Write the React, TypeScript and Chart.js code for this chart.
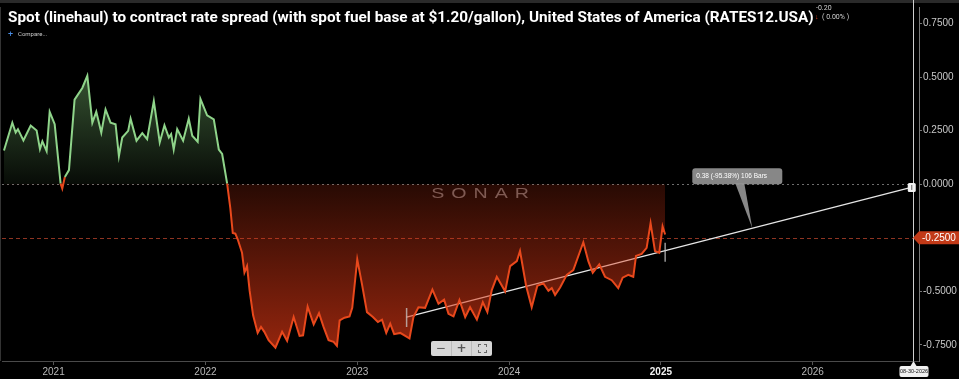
import React, { useEffect, useRef } from "react";
import { Chart, registerables } from "chart.js";
Chart.register(...registerables);

const years: number[] = [
  2020.673, 2020.728, 2020.75, 2020.765, 2020.801, 2020.849, 2020.888, 2020.91, 2020.926, 2020.954,
  2020.974, 2021.007, 2021.046, 2021.057, 2021.074, 2021.101, 2021.138, 2021.16, 2021.189, 2021.222,
  2021.255, 2021.281, 2021.314, 2021.342, 2021.375, 2021.408, 2021.43, 2021.452, 2021.491, 2021.507,
  2021.546, 2021.584, 2021.616, 2021.66, 2021.699, 2021.73, 2021.759, 2021.774, 2021.791, 2021.814,
  2021.853, 2021.89, 2021.913, 2021.949, 2021.967, 2022.011, 2022.055, 2022.088, 2022.11, 2022.143,
  2022.164, 2022.18, 2022.197, 2022.213, 2022.241, 2022.257, 2022.274, 2022.291, 2022.314, 2022.344,
  2022.366, 2022.388, 2022.416, 2022.461, 2022.505, 2022.538, 2022.581, 2022.62, 2022.643, 2022.673,
  2022.713, 2022.748, 2022.778, 2022.811, 2022.844, 2022.866, 2022.884, 2022.916, 2022.949, 2022.967,
  2023.0, 2023.031, 2023.064, 2023.103, 2023.136, 2023.163, 2023.191, 2023.217, 2023.243, 2023.283,
  2023.316, 2023.344, 2023.37, 2023.403, 2023.447, 2023.495, 2023.535, 2023.572, 2023.601, 2023.634,
  2023.673, 2023.711, 2023.743, 2023.788, 2023.827, 2023.857, 2023.886, 2023.919, 2023.974, 2024.007,
  2024.051, 2024.072, 2024.112, 2024.149, 2024.186, 2024.226, 2024.259, 2024.281, 2024.303, 2024.336,
  2024.38, 2024.423, 2024.489, 2024.522, 2024.551, 2024.594, 2024.632, 2024.676, 2024.719, 2024.748,
  2024.785, 2024.818, 2024.836, 2024.873, 2024.906, 2024.932, 2024.961, 2024.989, 2025.011, 2025.028,
];

// Spot-to-contract spread values
const spread: number[] = [
  0.157, 0.287, 0.241, 0.257, 0.204, 0.274, 0.251, 0.164, 0.2, 0.154,
  0.338, 0.28, 0.003, -0.02, 0.034, 0.066, 0.395, 0.418, 0.449, 0.506,
  0.287, 0.338, 0.241, 0.349, 0.287, 0.28, 0.131, 0.218, 0.249, 0.306,
  0.203, 0.238, 0.21, 0.388, 0.195, 0.275, 0.218, 0.234, 0.162, 0.257,
  0.203, 0.306, 0.226, 0.198, 0.398, 0.321, 0.303, 0.162, 0.141, 0.003,
  -0.113, -0.228, -0.231, -0.258, -0.32, -0.412, -0.382, -0.497, -0.612, -0.694,
  -0.666, -0.689, -0.728, -0.763, -0.689, -0.731, -0.62, -0.708, -0.705, -0.571,
  -0.654, -0.602, -0.666, -0.728, -0.736, -0.754, -0.635, -0.623, -0.617, -0.577,
  -0.351, -0.466, -0.597, -0.62, -0.643, -0.632, -0.694, -0.651, -0.7, -0.694,
  -0.708, -0.72, -0.62, -0.574, -0.577, -0.492, -0.558, -0.539, -0.605, -0.617,
  -0.54, -0.62, -0.574, -0.632, -0.551, -0.597, -0.494, -0.432, -0.5, -0.382,
  -0.359, -0.312, -0.474, -0.574, -0.474, -0.463, -0.497, -0.485, -0.517, -0.482,
  -0.423, -0.401, -0.271, -0.359, -0.413, -0.374, -0.432, -0.448, -0.485, -0.436,
  -0.423, -0.432, -0.335, -0.325, -0.297, -0.182, -0.312, -0.32, -0.197, -0.235,
];

// Trend (measure) line
const trendYears: number[] = [2023.325, 2026.649];
const trendValues: number[] = [-0.62, -0.015];

const xTicks: number[] = [2021, 2022, 2023, 2024, 2025, 2026];
const yTicks: number[] = [-0.75, -0.5, -0.25, 0, 0.25, 0.5, 0.75];

const title =
  "Spot (linehaul) to contract rate spread (with spot fuel base at $1.20/gallon), United States of America (RATES12.USA)";
const priceLineValue = -0.25;
const priceLineLabel = "-0.2500";
const cursorYear = 2026.658;
const cursorLabel = "08-30-2026";
const measureLabel = "0.38 (-95.38%) 106 Bars";
const headerChange = "-0.20";
const headerPct = "( 0.00% )";
const watermark = "SONAR";

const GREEN = "#8fd48a";
const RED = "#e8481c";

const decoPlugin = {
  id: "deco",
  beforeDraw(chart: any) {
    const { ctx, width, height, chartArea: a } = chart;
    ctx.save();
    ctx.fillStyle = "#000";
    ctx.fillRect(0, 0, width, height);
    ctx.fillStyle = "#2a2a2a";
    ctx.fillRect(0, 0, width, 3);
    ctx.strokeStyle = "#333";
    ctx.lineWidth = 1;
    ctx.beginPath();
    ctx.moveTo(0.5, a.top);
    ctx.lineTo(0.5, a.bottom);
    ctx.stroke();
    ctx.restore();
  },
  beforeDatasetsDraw(chart: any) {
    const { ctx, chartArea: a, scales } = chart;
    const x = scales.x;
    const y = scales.y;
    ctx.save();
    // watermark (wide, thin lettering)
    const wx = a.left + (a.right - a.left) * 0.468;
    const wy = y.getPixelForValue(-0.045);
    ctx.translate(wx, wy);
    ctx.scale(1.4, 1);
    ctx.font = '14px "Liberation Sans"';
    (ctx as any).letterSpacing = "5px";
    ctx.fillStyle = "rgba(120,116,116,0.85)";
    ctx.textAlign = "left";
    ctx.textBaseline = "middle";
    ctx.fillText(watermark, 0, 0);
    (ctx as any).letterSpacing = "0px";
    ctx.setTransform(1, 0, 0, 1, 0, 0);
    // zero dotted line
    const y0 = Math.round(y.getPixelForValue(0)) + 0.5;
    ctx.strokeStyle = "#6e6e6e";
    ctx.lineWidth = 1;
    ctx.setLineDash([2, 3]);
    ctx.beginPath();
    ctx.moveTo(a.left, y0);
    ctx.lineTo(x.getPixelForValue(trendYears[1]), y0);
    ctx.stroke();
    // price line
    const yp = Math.round(y.getPixelForValue(priceLineValue)) + 0.5;
    ctx.strokeStyle = "#8e3422";
    ctx.setLineDash([4, 3]);
    ctx.beginPath();
    ctx.moveTo(a.left, yp);
    ctx.lineTo(a.right, yp);
    ctx.stroke();
    ctx.restore();
  },
  afterDatasetsDraw(chart: any) {
    const { ctx, chartArea: a, scales, width } = chart;
    const x = scales.x;
    const y = scales.y;
    ctx.save();
    // cursor vertical line
    const cx = Math.round(x.getPixelForValue(cursorYear)) + 0.5;
    ctx.strokeStyle = "#cfcfcf";
    ctx.lineWidth = 1;
    ctx.beginPath();
    ctx.moveTo(cx, 0);
    ctx.lineTo(cx, a.bottom);
    ctx.stroke();

    // trend markers
    const tx0 = x.getPixelForValue(trendYears[0]);
    const ty0 = y.getPixelForValue(trendValues[0]);
    const tx1 = x.getPixelForValue(trendYears[1]);
    const ty1 = y.getPixelForValue(trendValues[1]);
    const lastX = x.getPixelForValue(years[years.length - 1]);
    const lastTy = ty0 + ((lastX - tx0) / (tx1 - tx0)) * (ty1 - ty0);
    ctx.strokeStyle = "rgba(200,200,200,0.75)";
    ctx.lineWidth = 1.5;
    ctx.beginPath();
    ctx.moveTo(tx0, ty0 - 9);
    ctx.lineTo(tx0, ty0 + 10);
    ctx.moveTo(lastX, lastTy - 8);
    ctx.lineTo(lastX, lastTy + 11);
    ctx.stroke();

    // end handle
    ctx.fillStyle = "#f2f2f2";
    ctx.beginPath();
    (ctx as any).roundRect(tx1 - 3.5, ty1 - 4.5, 8, 9, 1.5);
    ctx.fill();
    ctx.fillStyle = "#666";
    ctx.fillRect(tx1, ty1 - 2.5, 1, 5);

    // callout
    const t = 0.685;
    const px = tx0 + t * (tx1 - tx0);
    const py = ty0 + t * (ty1 - ty0);
    const bx = px - 60;
    const by = py - 60;
    ctx.fillStyle = "rgba(150,150,150,0.9)";
    ctx.beginPath();
    ctx.moveTo(px - 17, by + 15);
    ctx.lineTo(px - 8, by + 15);
    ctx.lineTo(px, py);
    ctx.closePath();
    ctx.fill();
    ctx.beginPath();
    (ctx as any).roundRect(bx, by, 90, 16, 3);
    ctx.fill();
    ctx.fillStyle = "#fff";
    ctx.font = '6.5px "Liberation Sans"';
    ctx.textAlign = "left";
    ctx.textBaseline = "middle";
    ctx.fillText(measureLabel, bx + 4, by + 8);

    // price label on axis
    const yp = y.getPixelForValue(priceLineValue);
    ctx.fillStyle = "#c23a18";
    ctx.beginPath();
    ctx.moveTo(a.right - 6, yp);
    ctx.lineTo(a.right, yp - 6.5);
    ctx.lineTo(width, yp - 6.5);
    ctx.lineTo(width, yp + 6.5);
    ctx.lineTo(a.right, yp + 6.5);
    ctx.closePath();
    ctx.fill();
    ctx.fillStyle = "#fff";
    ctx.font = '10px "Liberation Sans"';
    ctx.fillText(priceLineLabel, a.right + 3, yp + 0.5);

    // cursor date label
    ctx.fillStyle = "#f0f0f0";
    ctx.beginPath();
    ctx.moveTo(cx, a.bottom);
    ctx.lineTo(cx - 3, a.bottom + 5);
    ctx.lineTo(cx + 3, a.bottom + 5);
    ctx.closePath();
    ctx.fill();
    ctx.beginPath();
    (ctx as any).roundRect(cx - 14, a.bottom + 5, 29, 11, 2);
    ctx.fill();
    ctx.fillStyle = "#111";
    ctx.font = '5.5px "Liberation Sans"';
    ctx.textAlign = "center";
    ctx.fillText(cursorLabel, cx + 0.5, a.bottom + 10.5);
    ctx.restore();
  },
};

export default function App() {
  const ref = useRef<HTMLCanvasElement | null>(null);

  useEffect(() => {
    document.body.style.margin = "0";
    document.body.style.background = "#000";
    const canvas = ref.current;
    if (!canvas) return;
    const chart = new Chart(canvas, {
      type: "line",
      data: {
        datasets: [
          {
            data: years.map((v, i) => ({ x: v, y: spread[i] })),
            borderColor: RED,
            borderWidth: 2,
            pointRadius: 0,
            tension: 0,
            fill: { target: { value: 0 }, above: "rgba(0,0,0,0)", below: "rgba(0,0,0,0)" },
            segment: {
              borderColor: (c: any) => (c.p0.parsed.y >= 0 && c.p1.parsed.y >= 0 ? GREEN : RED),
            },
          } as any,
          {
            data: trendYears.map((v, i) => ({ x: v, y: trendValues[i] })),
            borderColor: "#e6e6e6",
            borderWidth: 1.2,
            pointRadius: 0,
            fill: false,
          },
        ],
      },
      options: {
        animation: false,
        responsive: false,
        maintainAspectRatio: false,
        layout: { padding: { left: 2, top: 3, right: 0, bottom: 0 } },
        plugins: { legend: { display: false }, tooltip: { enabled: false } },
        scales: {
          x: {
            type: "linear",
            position: "bottom",
            min: 2020.66,
            max: 2026.7,
            afterBuildTicks: (s: any) => {
              s.ticks = xTicks.map((v) => ({ value: v }));
            },
            afterFit: (s: any) => {
              s.height = 18;
            },
            ticks: {
              autoSkip: false,
              maxRotation: 0,
              padding: 1,
              color: (c: any) => (c.tick && c.tick.value === 2025 ? "#f2f2f2" : "#b8b8b8"),
              font: (c: any) => ({
                size: 10,
                family: "Liberation Sans",
                weight: c.tick && c.tick.value === 2025 ? "bold" : "normal",
              }),
              callback: (v: any) => String(v),
            },
            grid: { display: true, drawOnChartArea: false, drawTicks: true, tickLength: 4, color: "#555" },
            border: { display: true, color: "#4a4a4a" },
          },
          y: {
            type: "linear",
            position: "right",
            min: -0.825,
            max: 0.827,
            afterBuildTicks: (s: any) => {
              s.ticks = yTicks.map((v) => ({ value: v }));
            },
            afterFit: (s: any) => {
              s.width = 40;
            },
            ticks: {
              padding: 1,
              color: (c: any) => (c.tick && c.tick.value === priceLineValue ? "rgba(0,0,0,0)" : "#c8c8c8"),
              font: { size: 10, family: "Liberation Sans" },
              callback: (v: any) => Number(v).toFixed(4),
            },
            grid: { display: true, drawOnChartArea: false, drawTicks: true, tickLength: 3, color: "#777" },
            border: { display: true, color: "#777" },
          },
        },
      },
      plugins: [decoPlugin],
    });

    const ys = chart.scales.y;
    const c2 = chart.ctx;
    const y0 = ys.getPixelForValue(0);
    const gG = c2.createLinearGradient(0, ys.getPixelForValue(0.5), 0, y0);
    gG.addColorStop(0, "rgba(130,200,120,0.40)");
    gG.addColorStop(1, "rgba(130,200,120,0.06)");
    const gR = c2.createLinearGradient(0, y0, 0, ys.getPixelForValue(-0.75));
    gR.addColorStop(0, "rgba(220,55,20,0.18)");
    gR.addColorStop(1, "rgba(220,55,20,0.66)");
    (chart.data.datasets[0] as any).fill = { target: { value: 0 }, above: gG, below: gR };
    chart.update();

    return () => chart.destroy();
  }, []);

  const small: React.CSSProperties = {
    position: "absolute",
    fontFamily: "Roboto, 'Liberation Sans', sans-serif",
    whiteSpace: "nowrap",
  };

  return (
    <div style={{ position: "relative", width: 959, height: 379, background: "#000", overflow: "hidden" }}>
      <canvas ref={ref} width={959} height={379} style={{ display: "block", width: 959, height: 379 }} />
      <div
        style={{
          ...small,
          left: 8,
          top: 10,
          fontSize: 15.3,
          lineHeight: "15px",
          fontWeight: 700,
          color: "#fff",
        }}
      >
        {title}
      </div>
      <div style={{ ...small, left: 816, top: 5, fontSize: 7, lineHeight: "7px", color: "#cfcfcf" }}>{headerChange}</div>
      <div style={{ ...small, left: 815, top: 14, fontSize: 7, lineHeight: "7px", color: "#e04020" }}>↓</div>
      <div style={{ ...small, left: 822, top: 14, fontSize: 7, lineHeight: "7px", color: "#cfcfcf" }}>{headerPct}</div>
      <div style={{ ...small, left: 8, top: 30, fontSize: 9, lineHeight: "9px", color: "#4a8ee8" }}>+</div>
      <div style={{ ...small, left: 18, top: 31, fontSize: 6, lineHeight: "6px", color: "#c8c8c8" }}>Compare...</div>
      <div
        style={{
          position: "absolute",
          left: 431,
          top: 341,
          width: 61,
          height: 15,
          background: "#d6d6d6",
          borderRadius: 2,
          display: "flex",
          alignItems: "center",
          fontFamily: "'DejaVu Sans', sans-serif",
          color: "#555",
        }}
      >
        <div style={{ width: 20, textAlign: "center", fontSize: 12, lineHeight: "15px", borderRight: "1px solid #bbb" }}>−</div>
        <div style={{ width: 20, textAlign: "center", fontSize: 12, lineHeight: "15px", borderRight: "1px solid #bbb", fontWeight: 700 }}>+</div>
        <div style={{ width: 20, display: "flex", justifyContent: "center" }}>
          <div style={{ width: 7, height: 7, border: "1px dashed #666" }} />
        </div>
      </div>
    </div>
  );
}
